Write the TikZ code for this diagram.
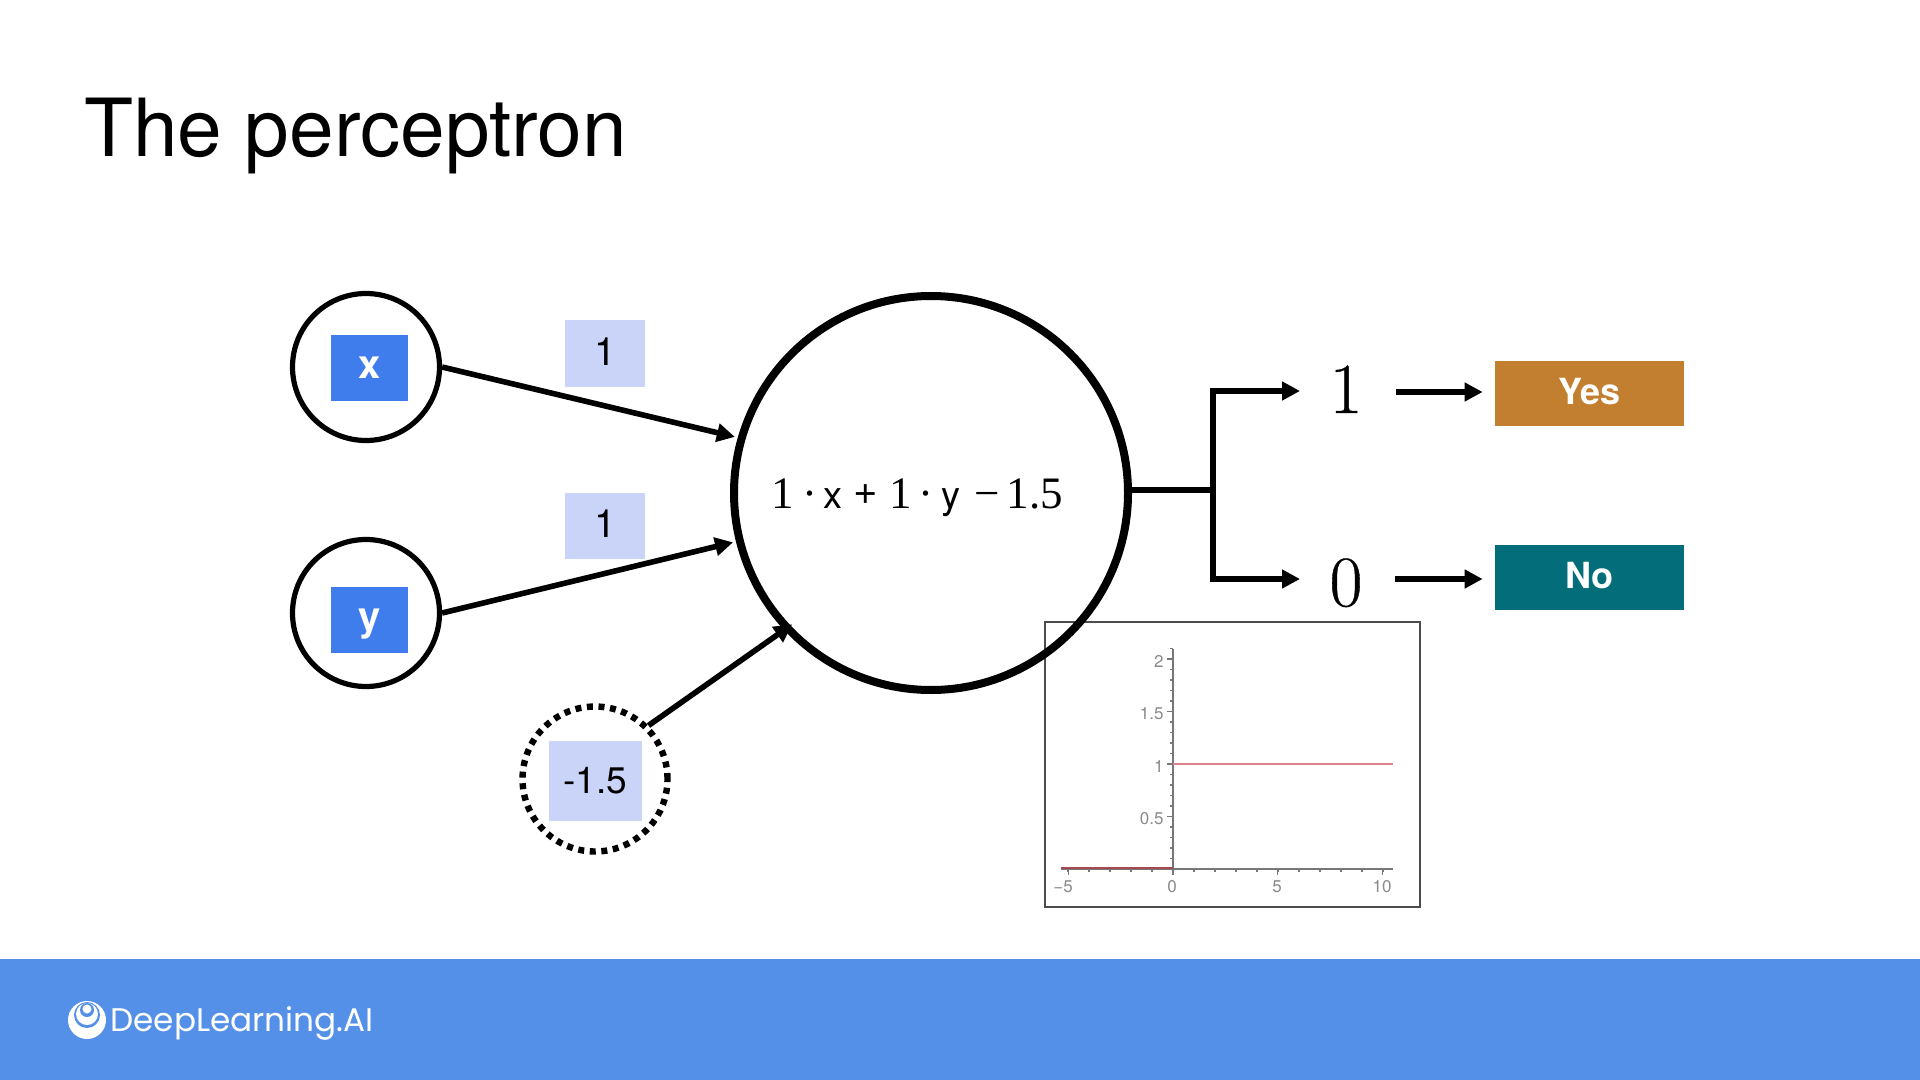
\documentclass[tikz,border=0pt]{standalone}
\usepackage{fontspec}
\setmainfont{TeX Gyre Heros}
\newfontfamily\serifnum{Liberation Serif}
\newfontfamily\lmnum[FakeBold=0.5]{Latin Modern Roman}
\newfontfamily\popfont{Poppins}
\usetikzlibrary{arrows.meta}
\definecolor{bannerblue}{HTML}{5490E8}
\definecolor{inblue}{HTML}{3F7CEC}
\definecolor{lightblue}{HTML}{C9D4F8}
\definecolor{yesorange}{HTML}{C27F30}
\definecolor{noteal}{HTML}{036E7A}
\definecolor{plotred}{HTML}{E0808C}
\definecolor{plotdark}{HTML}{A84850}
\definecolor{axisgray}{HTML}{777777}
\definecolor{numgray}{HTML}{8A8A8A}
\newcommand{\fsz}[1]{\fontsize{#1pt}{#1pt}\selectfont}
\tikzset{
  x=0.5pt,y=-0.5pt,
  inring/.style={circle,draw=black,line width=2.6pt,minimum size=73.5pt,inner sep=0pt,fill=white},
  bigring/.style={circle,draw=black,line width=4pt,minimum size=197pt,inner sep=0pt},
  dotring/.style={circle,draw=black,line width=3.2pt,dash pattern=on 3pt off 2.8pt,minimum size=72.5pt,inner sep=0pt},
  inbox/.style={fill=inblue,text=white,font=\fsz{20}\bfseries,minimum width=38.5pt,minimum height=33pt,inner sep=0pt,text height=11pt,text depth=0pt},
  weightbox/.style={fill=lightblue,text=black,font=\fsz{19.5},minimum width=40pt,minimum height=33pt,inner sep=0pt,text height=11.5pt,text depth=0pt},
  outbox/.style={text=white,font=\fsz{18}\bfseries,minimum width=94.5pt,minimum height=32.5pt,inner sep=0pt,text height=10.5pt,text depth=0pt},
  arrowline/.style={draw=black,line width=2.8pt,-{Triangle[length=9pt,width=9pt]}},
  outnum/.style={font=\lmnum\fsz{36},inner sep=0pt},
  ticknum/.style={font=\fsz{8.5},text=numgray,inner sep=0pt},
  axisline/.style={draw=axisgray,line width=0.6pt},
}
\begin{document}
\begin{tikzpicture}
\useasboundingbox (0,0) rectangle (1920,1080);
\fill[white] (0,0) rectangle (1920,1080);
% banner
\fill[bannerblue] (0,959) rectangle (1920,1080);
\fill[white] (87,1020) circle[radius=19];
\fill[bannerblue] (87,1015) circle[radius=13];
\fill[white] (87,1014) circle[radius=11];
\fill[bannerblue] (87,1010) circle[radius=7];
\fill[white] (87,1009) circle[radius=4.5];
\node[anchor=base west,font=\popfont\fsz{16.35},text=white,inner sep=0pt] (brand) at (110,1031) {DeepLearning.AI};
% title
\node[anchor=base west,font=\fsz{40.1},inner sep=0pt] (title) at (84,157) {The perceptron};
% chart
\node[draw=black!70,line width=1.2pt,fill=white,minimum width=187.5pt,minimum height=142.5pt,inner sep=0pt,anchor=north west] (frame) at (1044,621) {};
\coordinate (xl) at (1061,869); \coordinate (xr) at (1393,869);
\coordinate (yt) at (1173,649); \coordinate (yb) at (1173,869);
\draw[axisline] (xl) -- (xr);
\draw[axisline] (yt) -- (yb);
\foreach \i in {-5,...,10}{\draw[axisline] (1173+21*\i,869) -- (1173+21*\i,872);}
\foreach \i in {-5,0,5,10}{\draw[axisline] (1173+20.95*\i,869) -- (1173+20.95*\i,875);}
\foreach \i in {1,...,21}{\draw[axisline] (1173,869-10.5*\i) -- (1170,869-10.5*\i);}
\foreach \i/\t in {0.5/0.5,1/1,1.5/1.5,2/2}{%
  \draw[axisline] (1173,869-105*\i) -- (1167,869-105*\i);
  \node[ticknum,anchor=east] (ty\i) at (1164,871-105*\i) {\t};}
\node[ticknum] (tx5) at (1063,887) {−5};
\node[ticknum] (tx0) at (1172,887) {0};
\node[ticknum] (tx50) at (1277,887) {5};
\node[ticknum] (tx10) at (1382,887) {10};
\coordinate (ra) at (1173,764); \coordinate (rb) at (1393,764);
\coordinate (rc) at (1061,868); \coordinate (rd) at (1173,868);
\draw[plotred,line width=1.2pt] (ra) -- (rb);
\draw[plotdark,line width=1.2pt] (rc) -- (rd);
% neurons
\node[inring] (nx) at (366,367) {};
\node[inring] (ny) at (366,613) {};
\node[bigring] (big) at (931,493) {};
\node[dotring] (bias) at (595,779) {};
\node[inbox] (bx) at (369.5,368) {x};
\node[inbox] (by) at (369.5,619.5) {y};
\node[weightbox] (w1) at (605,353.5) {1};
\node[weightbox] (w2) at (605,526) {1};
\node[weightbox,font=\fsz{18.5},minimum width=46.5pt,minimum height=40pt,text height=12pt] (wb) at (595.5,781) {-1.5};
\node[inner sep=0pt,anchor=base west] (formula) at (771,508) {%
  {\serifnum\fsz{22.5}1}\hspace{4.25pt}{\serifnum\fsz{22.5}·}\hspace{3pt}{\fsz{19}x}\hspace{5.6pt}\raisebox{2pt}{\fsz{21}+}\hspace{5.5pt}{\serifnum\fsz{22.5}1}\hspace{3.35pt}{\serifnum\fsz{22.5}·}\hspace{4.3pt}{\fsz{19}y}\hspace{6.8pt}{\serifnum\fsz{22.5}−}\hspace{3.35pt}{\serifnum\fsz{22.5}1.5}};
% connectors
\draw[arrowline,shorten >=1.5pt] (nx.east) -- (big.164.4);
\draw[arrowline,shorten >=1.5pt] (ny.east) -- (big.194.5);
\draw[arrowline,shorten >=-5pt] (bias.45.6) -- (big.223.6);
% outputs
\node[outnum,anchor=base] (o1) at (1346,413) {1};
\node[outnum,anchor=base] (o0) at (1346,606) {0};
\node[outbox,fill=yesorange] (yes) at (1589.5,393.5) {Yes};
\node[outbox,fill=noteal] (no) at (1589.5,577.5) {No};
\coordinate (fork) at (1213,490);
\coordinate (tip1) at (1300,391);
\coordinate (tip0) at (1300,579);
\draw[draw=black,line width=3pt] (big.east |- fork) -- (fork);
\draw[arrowline,line width=3pt,line join=miter] (fork) |- (tip1);
\draw[arrowline,line width=3pt,line join=miter] (fork) |- (tip0);
\coordinate (s1) at (1396,392); \coordinate (s0) at (1395,579);
\draw[arrowline,shorten >=6pt] (s1) -- (s1 -| yes.west);
\draw[arrowline,shorten >=6pt] (s0) -- (s0 -| no.west);
\end{tikzpicture}
\end{document}
